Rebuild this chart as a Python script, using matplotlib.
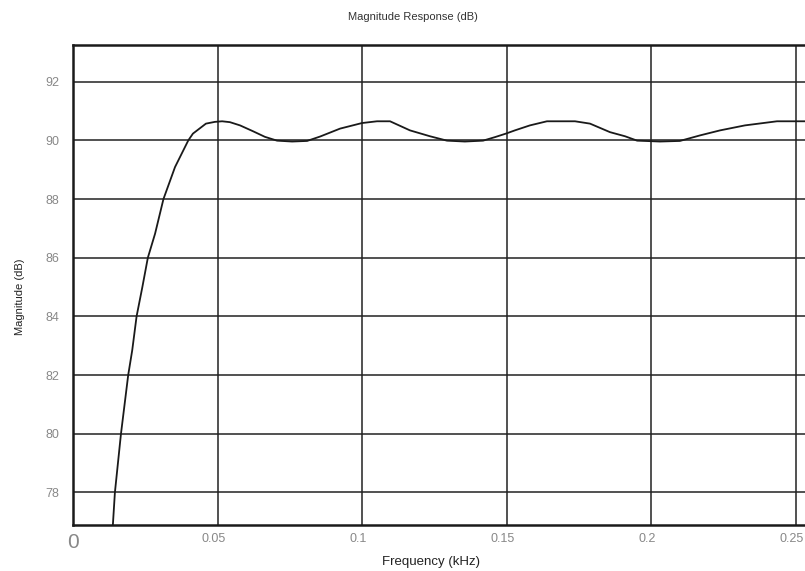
import numpy as np
import matplotlib
matplotlib.use('Agg')
from matplotlib import pyplot as plt
from matplotlib import transforms

plt.rcParams['font.family'] = ['Liberation Sans', 'DejaVu Sans']

# values (frequency in kHz, magnitude in dB)
freq = [0.0135, 0.0138, 0.0145, 0.0166, 0.0191, 0.0205, 0.0220, 0.0240, 0.0259,
        0.0284, 0.0313, 0.0353, 0.0399, 0.0415, 0.0460, 0.0491, 0.0516, 0.0543,
        0.0578, 0.0623, 0.0664, 0.0706, 0.0758, 0.0810, 0.0855, 0.0924, 0.1000,
        0.1052, 0.1097, 0.1166, 0.1235, 0.1294, 0.1356, 0.1419, 0.1460, 0.1498,
        0.1529, 0.1581, 0.1640, 0.1737, 0.1789, 0.1858, 0.1910, 0.1952, 0.2031,
        0.2100, 0.2170, 0.2239, 0.2325, 0.2436, 0.2560]
mag = [76.0, 76.9, 78.0, 80.0, 82.0, 82.85, 84.0, 85.0, 86.0,
       86.82, 88.0, 89.09, 90.0, 90.23, 90.57, 90.63, 90.65, 90.62,
       90.51, 90.31, 90.12, 89.99, 89.96, 89.98, 90.13, 90.40, 90.59,
       90.65, 90.65, 90.34, 90.14, 89.99, 89.96, 89.99, 90.11, 90.23,
       90.34, 90.51, 90.65, 90.65, 90.57, 90.28, 90.14, 89.99, 89.96,
       89.98, 90.17, 90.34, 90.51, 90.65, 90.65]

xticks = [0, 0.05, 0.1, 0.15, 0.2, 0.25]
xticklabels = ['0', '0.05', '0.1', '0.15', '0.2', '0.25']
yticks = [78, 80, 82, 84, 86, 88, 90, 92]

W, H = 805, 571
fig = plt.figure(figsize=(W / 100, H / 100), dpi=100)
left, right, top, bottom = 73, 805, 45, 525
ax = fig.add_axes([left / W, 1 - bottom / H, (right - left) / W, (bottom - top) / H])

ax.plot(freq, mag, color='#1a1a1a', lw=1.3)

ax.set_xlim(0, (right - left) / 2890)
ax.set_ylim(76.89, 93.25)
ax.set_xticks(xticks)
ax.set_xticklabels(xticklabels)
ax.set_yticks(yticks)
ax.grid(True, color='#222222', lw=1.1)
ax.tick_params(length=0, colors='#888888', labelsize=9)
ax.tick_params(axis='y', pad=10)
ax.tick_params(axis='x', pad=6)

shift = transforms.ScaledTranslation(-4 / 100, 0, fig.dpi_scale_trans)
for i, lab in enumerate(ax.get_xticklabels()):
    if i == 0:
        lab.set_fontsize(15)
    else:
        lab.set_transform(lab.get_transform() + shift)

for s in ['left', 'top', 'bottom']:
    ax.spines[s].set_linewidth(1.8)
    ax.spines[s].set_color('#1a1a1a')
ax.spines['right'].set_visible(False)

fig.text(413 / W, 1 - 17 / H, 'Magnitude Response (dB)', ha='center', va='center',
         fontsize=8, color='#333333')
fig.text(431 / W, 1 - 562 / H, 'Frequency (kHz)', ha='center', va='center',
         fontsize=9.5, color='#222222')
fig.text(20 / W, 1 - 297 / H, 'Magnitude (dB)', ha='center', va='center',
         rotation=90, fontsize=8, color='#222222')

fig.savefig('out.png', dpi=100)
